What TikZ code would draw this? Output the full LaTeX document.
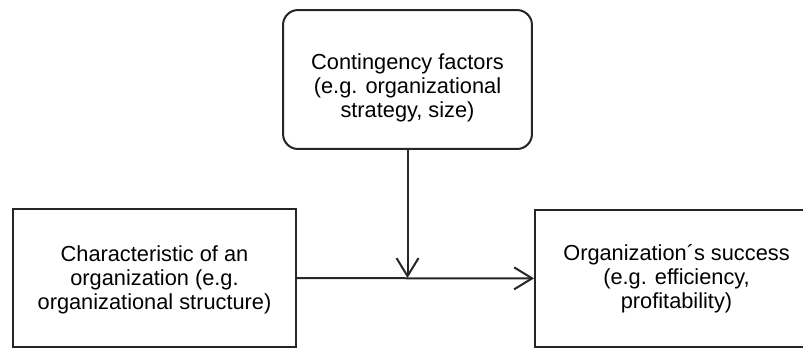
\documentclass[tikz,border=0pt]{standalone}
\usepackage{fontspec}
\setmainfont{Liberation Sans}
\usetikzlibrary{arrows.meta}

\begin{document}
\begin{tikzpicture}[->,>={Straight Barb[length=0.36cm,width=0.44cm]},x=0.02cm,y=-0.02cm,
		line width=0.04cm, font=\fontsize{12.4}{13.7}\selectfont,
		box/.style={draw=black!85,line width=0.04cm,minimum width=5.66cm,minimum height=2.76cm,align=center}]

		\path[use as bounding box,clip] (0,0) rectangle (803,349);

		\node at (407.5,79.5) [box,rounded corners=0.3cm,minimum width=4.98cm,minimum height=2.78cm] (Contingency) {\raisebox{-0.18cm}[\height][\depth]{\begin{tabular}{@{}c@{}}Contingency factors\\(e.g. organizational\\strategy, size)\end{tabular}}};
		\node at (154.5,278) [box] (Characteristic) {\raisebox{-0.06cm}[\height][\depth]{\begin{tabular}{@{}c@{}}Characteristic of an\\organization (e.g.\\organizational structure)\end{tabular}}};
		\node at (676.5,278.5) [box] (Success) {Organization´s success\\(e.g. efficiency,\\profitability)};

		\coordinate (Meet) at (Contingency.south |- Characteristic.east);

		\path[draw=black!85]
		(Characteristic) edge (Success)
		(Contingency) edge (Meet);
	\end{tikzpicture}
\end{document}
